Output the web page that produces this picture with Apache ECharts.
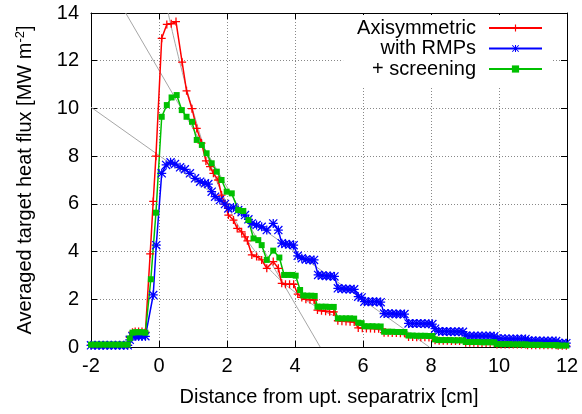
<!DOCTYPE html>
<html lang="en">
<head>
    <meta charset="UTF-8">
    <title>Averaged target heat flux</title>
    <script src="https://cdn.jsdelivr.net/npm/echarts@6/dist/echarts.min.js"></script>
    <style>
        html, body {margin: 0; padding: 0; background: #fff;}
        #chart {width: 582px; height: 414px;}
    </style>
</head>
<body>
<div id="chart"></div>
<script type="text/javascript">
    // axis ticks
    const xTicks = [-2, 0, 2, 4, 6, 8, 10, 12];
    const yTicks = [0, 2, 4, 6, 8, 10, 12, 14];

    // Axisymmetric (red)
    const axisymmetric = [
        [-2.0, 0.08], [-1.88, 0.08], [-1.76, 0.08], [-1.64, 0.08], [-1.52, 0.08], [-1.4, 0.08], [-1.28, 0.08],
        [-1.16, 0.08], [-1.04, 0.08], [-0.92, 0.08], [-0.86, 0.4], [-0.78, 0.62], [-0.7, 0.65], [-0.6, 0.65],
        [-0.5, 0.65], [-0.4, 0.62], [-0.26, 3.9], [-0.17, 6.1], [-0.09, 8.0], [0.08, 12.94], [0.23, 13.52],
        [0.36, 13.55], [0.5, 13.64], [0.68, 11.94], [0.81, 10.74], [0.97, 9.99], [1.11, 9.16], [1.25, 8.55],
        [1.38, 7.8], [1.5, 7.56], [1.6, 7.28], [1.74, 7.0], [1.84, 6.37], [1.94, 5.99], [2.04, 5.53],
        [2.19, 5.32], [2.3, 4.97], [2.43, 4.83], [2.53, 4.62], [2.6, 4.45], [2.73, 3.86], [2.87, 3.79],
        [3.02, 3.65], [3.17, 3.3], [3.36, 3.58], [3.51, 3.3], [3.61, 2.67], [3.72, 2.63], [3.84, 2.63],
        [3.96, 2.63], [4.08, 2.22], [4.2, 2.08], [4.32, 2.0], [4.44, 1.98], [4.56, 1.97],
        [4.66, 1.55], [4.78, 1.52], [4.9, 1.5], [5.02, 1.48], [5.14, 1.47],
        [5.26, 1.1], [5.38, 1.08], [5.5, 1.07], [5.62, 1.06], [5.74, 1.05],
        [5.86, 0.8], [5.98, 0.79], [6.1, 0.78], [6.22, 0.78], [6.34, 0.77], [6.46, 0.77], [6.56, 0.76],
        [6.62, 0.6], [6.74, 0.6], [6.86, 0.59], [6.98, 0.59], [7.1, 0.58], [7.22, 0.58],
        [7.34, 0.42], [7.46, 0.42], [7.58, 0.41], [7.7, 0.41], [7.82, 0.41], [7.94, 0.4], [8.04, 0.4],
        [8.12, 0.28], [8.24, 0.26], [8.36, 0.26], [8.48, 0.26], [8.6, 0.25], [8.72, 0.25], [8.84, 0.25], [8.96, 0.25],
        [9.02, 0.18], [9.14, 0.18], [9.26, 0.18], [9.38, 0.17], [9.5, 0.17], [9.62, 0.17], [9.74, 0.17], [9.86, 0.17],
        [9.94, 0.1], [10.06, 0.1], [10.18, 0.1], [10.3, 0.1], [10.42, 0.1], [10.54, 0.1], [10.66, 0.1], [10.78, 0.1],
        [10.84, 0.07], [10.96, 0.07], [11.08, 0.07], [11.2, 0.07], [11.32, 0.07], [11.44, 0.07], [11.56, 0.07], [11.68, 0.07],
        [11.74, 0.05], [11.86, 0.05], [11.98, 0.05]
    ];

    // with RMPs (blue)
    const withRMPs = [
        [-2.0, 0.07], [-1.88, 0.07], [-1.76, 0.07], [-1.64, 0.07], [-1.52, 0.07], [-1.4, 0.07], [-1.28, 0.07],
        [-1.16, 0.07], [-1.04, 0.07], [-0.92, 0.07], [-0.86, 0.3], [-0.78, 0.45], [-0.7, 0.45], [-0.6, 0.45],
        [-0.5, 0.45], [-0.4, 0.45], [-0.17, 2.18], [-0.08, 4.27], [0.08, 7.28], [0.21, 7.63], [0.34, 7.74],
        [0.47, 7.67], [0.62, 7.53], [0.76, 7.45], [0.91, 7.28], [1.06, 7.07], [1.21, 6.93], [1.35, 6.86],
        [1.45, 6.83], [1.55, 6.51], [1.65, 6.3], [1.79, 6.16], [1.94, 5.99], [2.04, 5.81], [2.19, 5.85],
        [2.33, 5.74], [2.43, 5.65], [2.53, 5.53], [2.63, 5.35], [2.73, 5.18], [2.87, 5.11], [3.02, 5.04],
        [3.17, 4.9], [3.36, 5.18], [3.51, 4.9], [3.61, 4.35], [3.72, 4.32], [3.84, 4.3], [3.96, 4.27],
        [4.08, 3.82], [4.2, 3.72], [4.32, 3.67], [4.44, 3.65], [4.56, 3.65],
        [4.68, 3.02], [4.8, 3.0], [4.92, 2.98], [5.04, 2.98], [5.16, 2.96],
        [5.26, 2.46], [5.38, 2.44], [5.5, 2.43], [5.62, 2.42], [5.74, 2.42],
        [5.86, 2.11], [5.96, 2.08],
        [6.04, 1.9], [6.16, 1.9], [6.28, 1.9], [6.4, 1.9], [6.52, 1.88],
        [6.62, 1.4], [6.74, 1.4], [6.86, 1.39], [6.98, 1.38], [7.1, 1.38], [7.22, 1.38],
        [7.34, 0.99], [7.46, 0.99], [7.58, 0.98], [7.7, 0.98], [7.82, 0.97], [7.94, 0.97], [8.04, 0.96],
        [8.12, 0.77], [8.22, 0.66], [8.34, 0.65], [8.46, 0.65], [8.58, 0.64], [8.7, 0.64], [8.82, 0.64], [8.94, 0.64],
        [9.02, 0.47], [9.14, 0.46], [9.26, 0.46], [9.38, 0.46], [9.5, 0.46], [9.62, 0.46], [9.74, 0.46], [9.86, 0.45],
        [9.94, 0.35], [10.06, 0.35], [10.18, 0.35], [10.3, 0.34], [10.42, 0.34], [10.54, 0.34], [10.66, 0.34], [10.78, 0.34],
        [10.84, 0.26], [10.96, 0.26], [11.08, 0.26], [11.2, 0.25], [11.32, 0.25], [11.44, 0.25], [11.56, 0.25], [11.68, 0.25],
        [11.74, 0.17], [11.86, 0.16], [11.98, 0.16]
    ];

    // + screening (green)
    const screening = [
        [-2.0, 0.1], [-1.88, 0.1], [-1.76, 0.1], [-1.64, 0.1], [-1.52, 0.1], [-1.4, 0.1], [-1.28, 0.1],
        [-1.16, 0.1], [-1.04, 0.1], [-0.92, 0.1], [-0.86, 0.36], [-0.78, 0.6], [-0.7, 0.62], [-0.6, 0.62],
        [-0.5, 0.62], [-0.4, 0.6], [-0.24, 2.84], [-0.09, 5.63], [0.08, 9.65], [0.23, 10.14], [0.37, 10.46],
        [0.52, 10.56], [0.67, 9.93], [0.81, 9.65], [0.97, 9.44], [1.11, 8.68], [1.26, 8.47], [1.4, 8.12],
        [1.55, 7.7], [1.7, 7.35], [1.84, 7.0], [1.99, 6.51], [2.14, 6.44], [2.33, 5.74], [2.48, 5.7],
        [2.63, 5.32], [2.78, 4.55], [2.92, 4.48], [3.02, 4.27], [3.17, 3.65], [3.36, 4.04], [3.54, 3.75],
        [3.68, 3.02], [3.8, 3.02], [3.92, 3.02], [4.02, 2.99], [4.15, 2.39], [4.24, 2.16], [4.36, 2.15],
        [4.48, 2.15], [4.58, 2.14],
        [4.66, 1.69], [4.78, 1.69], [4.9, 1.69], [5.02, 1.68], [5.14, 1.68],
        [5.26, 1.2], [5.38, 1.2], [5.5, 1.2], [5.62, 1.2], [5.74, 1.19],
        [5.86, 1.02], [5.96, 1.0],
        [6.04, 0.87], [6.16, 0.87], [6.28, 0.87], [6.4, 0.86], [6.52, 0.86],
        [6.62, 0.64], [6.74, 0.64], [6.86, 0.64], [6.98, 0.63], [7.1, 0.63], [7.22, 0.63],
        [7.34, 0.48], [7.46, 0.48], [7.58, 0.47], [7.7, 0.47], [7.82, 0.47], [7.94, 0.46], [8.04, 0.46],
        [8.12, 0.32], [8.22, 0.29], [8.34, 0.29], [8.46, 0.29], [8.58, 0.29], [8.7, 0.28], [8.82, 0.28], [8.94, 0.28],
        [9.02, 0.21], [9.14, 0.21], [9.26, 0.21], [9.38, 0.21], [9.5, 0.2], [9.62, 0.2], [9.74, 0.2], [9.86, 0.2],
        [9.94, 0.12], [10.06, 0.12], [10.18, 0.12], [10.3, 0.12], [10.42, 0.11], [10.54, 0.11], [10.66, 0.11], [10.78, 0.11],
        [10.84, 0.09], [10.96, 0.09], [11.08, 0.09], [11.2, 0.09], [11.32, 0.08], [11.44, 0.08], [11.56, 0.08], [11.68, 0.08],
        [11.74, 0.06], [11.86, 0.06], [11.98, 0.06]
    ];

    // grey fit lines
    const fitScreening = [[-0.98, 14], [4.74, 0]];
    const fitRMPs = [[-2, 10.05], [7.95, 0]];
    const fitAxisym = [
        [0.27, 14], [0.6, 12.0], [1.0, 9.9], [1.5, 7.7], [2.0, 6.0], [2.5, 4.7], [3.0, 3.7], [3.5, 2.9],
        [4.0, 2.3], [4.5, 1.8], [5.0, 1.4], [6.0, 0.9], [7.0, 0.55], [8.0, 0.35], [9.0, 0.2], [10.0, 0.13],
        [11.0, 0.08], [12.0, 0.05]
    ];

    const font = 'Liberation Sans, Arial, sans-serif';
    // gnuplot-like point types
    const plusPath = 'path://M4.2,0h1.6v4.2h4.2v1.6h-4.2v4.2h-1.6v-4.2h-4.2v-1.6h4.2z';
    const starPath = 'path://M4.3,0h1.4v4.3h4.3v1.4h-4.3v4.3h-1.4v-4.3h-4.3v-1.4h4.3z' +
        'M0,1L1,0L10,9L9,10z M9,0L10,1L1,10L0,9z';

    const chart = echarts.init(document.getElementById('chart'), null, {renderer: 'canvas'});

    function frameAxis(pos, isX) {
        return {
            type: 'value',
            position: pos,
            min: isX ? xTicks[0] : yTicks[0],
            max: isX ? xTicks[xTicks.length - 1] : yTicks[yTicks.length - 1],
            interval: 2,
            axisLine: {show: true, onZero: false, lineStyle: {color: '#000', width: 1}},
            axisTick: {show: true, inside: true, length: 6, lineStyle: {color: '#000'}},
            axisLabel: {show: false},
            splitLine: {show: false}
        };
    }

    const xBottom = frameAxis('bottom', true);
    xBottom.axisLabel = {show: true, fontSize: 20, color: '#000', fontFamily: font, margin: 9};
    xBottom.splitLine = {show: true, lineStyle: {color: '#888', type: [1, 2], width: 1}};
    xBottom.name = 'Distance from upt. separatrix [cm]';
    xBottom.nameLocation = 'middle';
    xBottom.nameGap = 40;
    xBottom.nameTextStyle = {fontSize: 20, color: '#000', fontFamily: font};

    const yLeft = frameAxis('left', false);
    yLeft.axisLabel = {show: true, fontSize: 20, color: '#000', fontFamily: font, margin: 12};
    yLeft.splitLine = {show: true, lineStyle: {color: '#888', type: [1, 2], width: 1}};
    yLeft.name = 'Averaged target heat flux [MW m{sup|-2}]';
    yLeft.nameLocation = 'middle';
    yLeft.nameGap = 55;
    yLeft.nameTextStyle = {
        fontSize: 20, color: '#000', fontFamily: font, lineHeight: 22,
        rich: {sup: {fontSize: 13, color: '#000', fontFamily: font, verticalAlign: 'top', lineHeight: 13}}
    };

    function fitSeries(data, smooth) {
        return {
            type: 'line', data: data, smooth: smooth, showSymbol: false, silent: true,
            lineStyle: {color: '#a6a6a6', width: 1}, z: 1
        };
    }

    function dataSeries(name, data, color, symbol, size) {
        return {
            name: name, type: 'line', data: data,
            symbol: symbol, symbolSize: size,
            itemStyle: {color: color},
            lineStyle: {color: color, width: 1.5},
            z: 3
        };
    }

    const option = {
        animation: false,
        backgroundColor: '#fff',
        grid: {left: 91, right: 15, top: 13, bottom: 67},
        legend: {
            data: ['Axisymmetric', 'with RMPs', '+ screening'],
            orient: 'vertical',
            align: 'right',
            right: 29,
            top: 15,
            itemWidth: 53,
            itemHeight: 9,
            itemGap: 0.5,
            selectedMode: false,
            backgroundColor: '#fff',
            padding: [3, 10, 8, 14],
            textStyle: {fontSize: 20, lineHeight: 20, color: '#000', fontFamily: font, padding: [0, 8, 0, 0]}
        },
        xAxis: [xBottom, frameAxis('top', true)],
        yAxis: [yLeft, frameAxis('right', false)],
        series: [
            fitSeries(fitScreening, false),
            fitSeries(fitRMPs, false),
            fitSeries(fitAxisym, true),
            dataSeries('Axisymmetric', axisymmetric, '#ff0000', plusPath, 8),
            dataSeries('with RMPs', withRMPs, '#0000ff', starPath, 9),
            dataSeries('+ screening', screening, '#00c000', 'rect', 6)
        ]
    };
    chart.setOption(option);
</script>
</body>
</html>
